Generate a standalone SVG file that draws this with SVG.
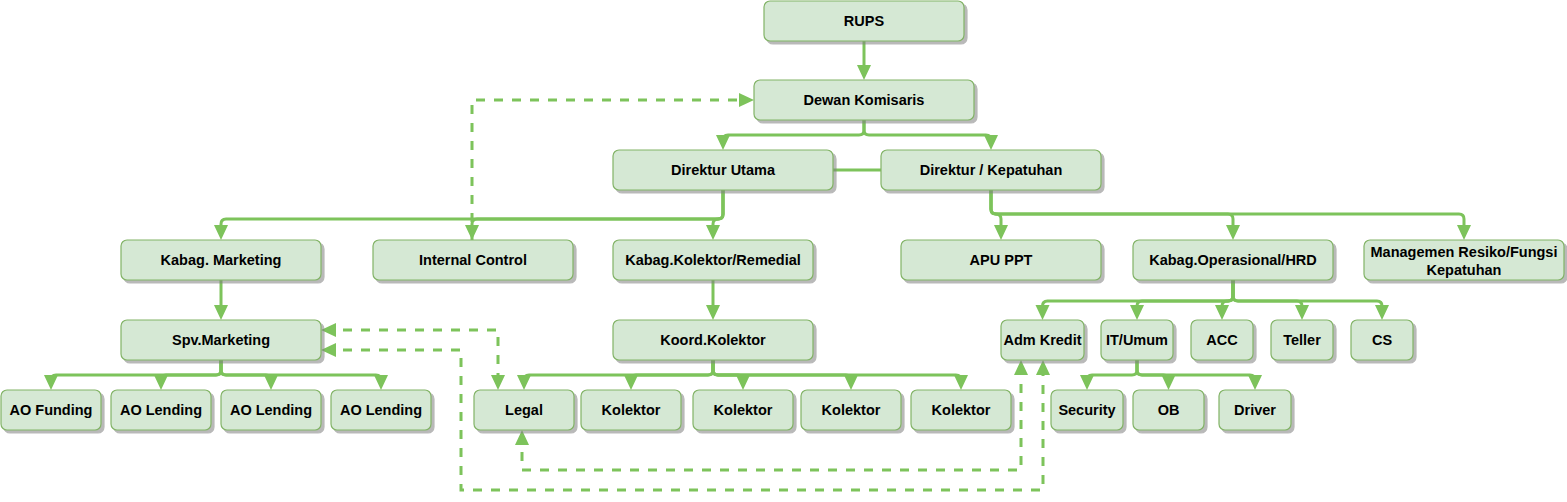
<svg xmlns="http://www.w3.org/2000/svg" width="1567" height="502" viewBox="0 0 1567 502">
<style>
.box{fill:#d5e8d4;stroke:#82b366;stroke-width:1.2;filter:url(#sh)}
.t{font-family:"Liberation Sans",Arial,sans-serif;font-weight:bold;font-size:14.5px;fill:#000;text-anchor:middle;dominant-baseline:central}
.e{fill:none;stroke:#7dc35b;stroke-width:3;marker-end:url(#ah)}
.l{fill:none;stroke:#7dc35b;stroke-width:3}
.d{fill:none;stroke:#7dc35b;stroke-width:3;stroke-dasharray:9 9;marker-end:url(#ah)}
.d2{marker-start:url(#ah)}
</style>
<defs>
<filter id="sh" x="-10%" y="-20%" width="130%" height="150%">
<feDropShadow dx="3" dy="3" stdDeviation="0.6" flood-color="#808080" flood-opacity="0.55"/>
</filter>
<marker id="ah" markerUnits="userSpaceOnUse" markerWidth="16" markerHeight="15" viewBox="0 0 16 15" refX="11" refY="7" orient="auto-start-reverse">
<path d="M0,0 L15,7 L0,14 z" fill="#7dc35b"/>
</marker>
</defs>
<g id="connectors">
<path class="e" d="M864,41 V76"/>
<path class="e" d="M864,120 V130 Q864,135 859,135 H728 Q723,135 723,140 V146"/>
<path class="e" d="M864,120 V130 Q864,135 869,135 H986 Q991,135 991,140 V146"/>
<path class="l" d="M833,170 H881"/>
<path class="e" d="M723,190 V214 Q723,219 718,219 H226 Q221,219 221,224 V236"/>
<path class="e" d="M723,190 V214 Q723,219 718,219 H477 Q472,219 472,224 V236"/>
<path class="e" d="M723,190 V214 Q723,219 718,219 Q713,219 713,224 V236"/>
<path class="e" d="M991,190 V209 Q991,214 996,214 Q1001,214 1001,219 V236"/>
<path class="e" d="M991,190 V209 Q991,214 996,214 H1228 Q1233,214 1233,219 V236"/>
<path class="e" d="M991,190 V209 Q991,214 996,214 H1459 Q1464,214 1464,219 V236"/>
<path class="e" d="M221,280 V316"/>
<path class="e" d="M713,280 V316"/>
<path class="e" d="M221,360 V370 Q221,375 216,375 H56 Q51,375 51,380 V386"/>
<path class="e" d="M221,360 V370 Q221,375 216,375 H166 Q161,375 161,380 V386"/>
<path class="e" d="M221,360 V370 Q221,375 226,375 H266 Q271,375 271,380 V386"/>
<path class="e" d="M221,360 V370 Q221,375 226,375 H376 Q381,375 381,380 V386"/>
<path class="e" d="M713,360 V370 Q713,375 708,375 H529 Q524,375 524,380 V386"/>
<path class="e" d="M713,360 V370 Q713,375 708,375 H636 Q631,375 631,380 V386"/>
<path class="e" d="M713,360 V370 Q713,375 718,375 H738 Q743,375 743,380 V386"/>
<path class="e" d="M713,360 V370 Q713,375 718,375 H846 Q851,375 851,380 V386"/>
<path class="e" d="M713,360 V370 Q713,375 718,375 H956 Q961,375 961,380 V386"/>
<path class="e" d="M1233,280 V296 Q1233,301 1228,301 H1047.5 Q1042.5,301 1042.5,306 V316"/>
<path class="e" d="M1233,280 V296 Q1233,301 1228,301 H1142 Q1137,301 1137,306 V316"/>
<path class="e" d="M1233,280 V296 Q1233,301 1228,301 H1227 Q1222,301 1222,306 V316"/>
<path class="e" d="M1233,280 V296 Q1233,301 1238,301 H1297 Q1302,301 1302,306 V316"/>
<path class="e" d="M1233,280 V296 Q1233,301 1238,301 H1377 Q1382,301 1382,306 V316"/>
<path class="e" d="M1137,360 V370 Q1137,375 1132,375 H1092 Q1087,375 1087,380 V386"/>
<path class="e" d="M1137,360 V370 Q1137,375 1142,375 H1163.5 Q1168.5,375 1168.5,380 V386"/>
<path class="e" d="M1137,360 V370 Q1137,375 1142,375 H1250 Q1255,375 1255,380 V386"/>
<path class="d" d="M472,240 V100 H750"/>
<path class="d d2" d="M325,330 H498 V386"/>
<path class="d d2" d="M325,350 H461 V490 H1043 V364"/>
<path class="d d2" d="M522,434 V470 H1021 V364"/>
</g>
<g id="rups"><rect class="box" x="764" y="1" width="200" height="40" rx="6"/><text class="t" x="864" y="21">RUPS</text></g>
<g id="dewan"><rect class="box" x="754" y="80" width="220" height="40" rx="6"/><text class="t" x="864" y="100">Dewan Komisaris</text></g>
<g id="dirut"><rect class="box" x="613" y="150" width="220" height="40" rx="6"/><text class="t" x="723" y="170">Direktur Utama</text></g>
<g id="dirkep"><rect class="box" x="881" y="150" width="220" height="40" rx="6"/><text class="t" x="991" y="170">Direktur / Kepatuhan</text></g>
<g id="kabagmkt"><rect class="box" x="121" y="240" width="200" height="40" rx="6"/><text class="t" x="221" y="260">Kabag. Marketing</text></g>
<g id="ic"><rect class="box" x="373" y="240" width="200" height="40" rx="6"/><text class="t" x="473" y="260">Internal Control</text></g>
<g id="kabagkol"><rect class="box" x="613" y="240" width="200" height="40" rx="6"/><text class="t" x="713" y="260">Kabag.Kolektor/Remedial</text></g>
<g id="apu"><rect class="box" x="901" y="240" width="200" height="40" rx="6"/><text class="t" x="1001" y="260">APU PPT</text></g>
<g id="kabagop"><rect class="box" x="1133" y="240" width="200" height="40" rx="6"/><text class="t" x="1233" y="260">Kabag.Operasional/HRD</text></g>
<g id="mr"><rect class="box" x="1364" y="240" width="200" height="40" rx="6"/><text class="t" x="1464" y="252">Managemen Resiko/Fungsi</text><text class="t" x="1464" y="270">Kepatuhan</text></g>
<g id="spv"><rect class="box" x="121" y="320" width="200" height="40" rx="6"/><text class="t" x="221" y="340">Spv.Marketing</text></g>
<g id="koord"><rect class="box" x="613" y="320" width="200" height="40" rx="6"/><text class="t" x="713" y="340">Koord.Kolektor</text></g>
<g id="adm"><rect class="box" x="1001" y="320" width="83" height="40" rx="6"/><text class="t" x="1042.5" y="340">Adm Kredit</text></g>
<g id="it"><rect class="box" x="1101" y="320" width="72" height="40" rx="6"/><text class="t" x="1137" y="340">IT/Umum</text></g>
<g id="acc"><rect class="box" x="1191" y="320" width="62" height="40" rx="6"/><text class="t" x="1222" y="340">ACC</text></g>
<g id="teller"><rect class="box" x="1271" y="320" width="62" height="40" rx="6"/><text class="t" x="1302" y="340">Teller</text></g>
<g id="cs"><rect class="box" x="1351" y="320" width="62" height="40" rx="6"/><text class="t" x="1382" y="340">CS</text></g>
<g id="aof"><rect class="box" x="1" y="390" width="100" height="40" rx="6"/><text class="t" x="51" y="410">AO Funding</text></g>
<g id="aol1"><rect class="box" x="111" y="390" width="100" height="40" rx="6"/><text class="t" x="161" y="410">AO Lending</text></g>
<g id="aol2"><rect class="box" x="221" y="390" width="100" height="40" rx="6"/><text class="t" x="271" y="410">AO Lending</text></g>
<g id="aol3"><rect class="box" x="331" y="390" width="100" height="40" rx="6"/><text class="t" x="381" y="410">AO Lending</text></g>
<g id="legal"><rect class="box" x="474" y="390" width="100" height="40" rx="6"/><text class="t" x="524" y="410">Legal</text></g>
<g id="kol1"><rect class="box" x="581" y="390" width="100" height="40" rx="6"/><text class="t" x="631" y="410">Kolektor</text></g>
<g id="kol2"><rect class="box" x="693" y="390" width="100" height="40" rx="6"/><text class="t" x="743" y="410">Kolektor</text></g>
<g id="kol3"><rect class="box" x="801" y="390" width="100" height="40" rx="6"/><text class="t" x="851" y="410">Kolektor</text></g>
<g id="kol4"><rect class="box" x="911" y="390" width="100" height="40" rx="6"/><text class="t" x="961" y="410">Kolektor</text></g>
<g id="security"><rect class="box" x="1051" y="390" width="72" height="40" rx="6"/><text class="t" x="1087" y="410">Security</text></g>
<g id="ob"><rect class="box" x="1133" y="390" width="71" height="40" rx="6"/><text class="t" x="1168.5" y="410">OB</text></g>
<g id="driver"><rect class="box" x="1219" y="390" width="72" height="40" rx="6"/><text class="t" x="1255" y="410">Driver</text></g>
</svg>
